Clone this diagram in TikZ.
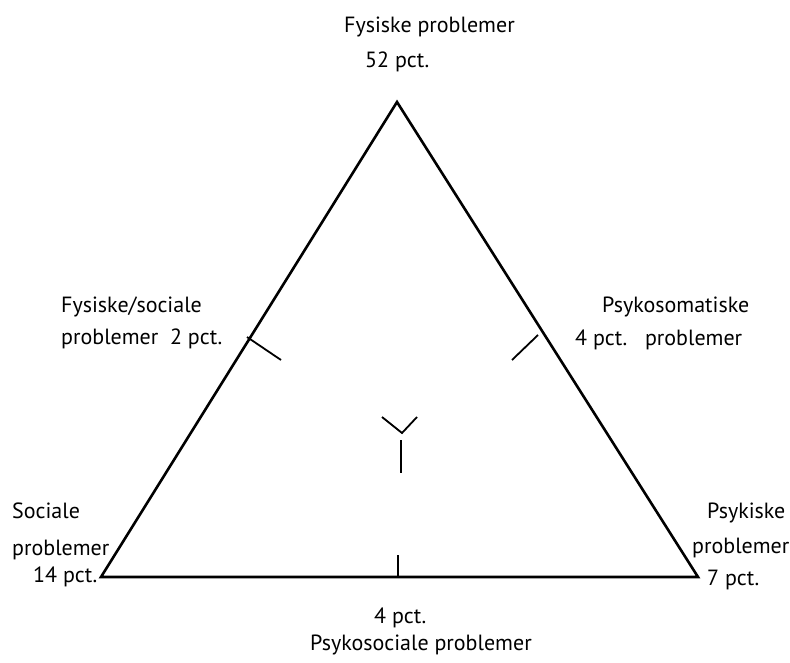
\documentclass[tikz,border=0pt]{standalone}
\usepackage{fontspec}
\setmainfont{PT Sans}
\begin{document}
\begin{tikzpicture}[x=1pt,y=-1pt,
  lbl/.style={inner sep=0pt,anchor=base west,font=\fontsize{22}{26}\selectfont},
  side/.style={line width=2.6pt,line join=miter},
  tick/.style={line width=1.8pt}]
\useasboundingbox (0,0) rectangle (790,663);
\coordinate (A) at (397,102);
\coordinate (B) at (101,577);
\coordinate (C) at (698,577);
\draw[side] (A) -- (B) -- (C) -- cycle;
% ticks
\coordinate (l1) at (247,337); \coordinate (l2) at (281,360);
\draw[tick] (l1) -- (l2);
\coordinate (r1) at (538,335); \coordinate (r2) at (512,360);
\draw[tick] (r1) -- (r2);
\coordinate (b1) at (398,555); \coordinate (b2) at (398,577);
\draw[tick] (b1) -- (b2);
\coordinate (y1) at (382,417); \coordinate (y2) at (402,433); \coordinate (y3) at (417,417);
\draw[tick] (y1) -- (y2) -- (y3);
\coordinate (y4) at (401,440); \coordinate (y5) at (401,473);
\draw[tick] (y4) -- (y5);
% labels
\node[lbl] (t1) at (344,33) {Fysiske problemer};
\node[lbl] (t2) at (365,68) {52 pct.};
\node[lbl] (l3) at (61,312) {Fysiske/sociale};
\node[lbl] (l4) at (61,344) {problemer\ \ 2 pct.};
\node[lbl] (r3) at (602,312) {Psykosomatiske};
\node[lbl] (r4) at (575,345) {4 pct.\ \ \ problemer};
\node[lbl] (s1) at (12,518) {Sociale};
\node[lbl] (s2) at (12,555) {problemer};
\node[lbl] (s3) at (33,582) {14 pct.};
\node[lbl] (p1) at (707,518) {Psykiske};
\node[lbl] (p2) at (692,553) {problemer};
\node[lbl] (p3) at (707,585) {7 pct.};
\node[lbl] (q1) at (374,623) {4 pct.};
\node[lbl] (q2) at (310,650) {Psykosociale problemer};
\end{tikzpicture}
\end{document}
